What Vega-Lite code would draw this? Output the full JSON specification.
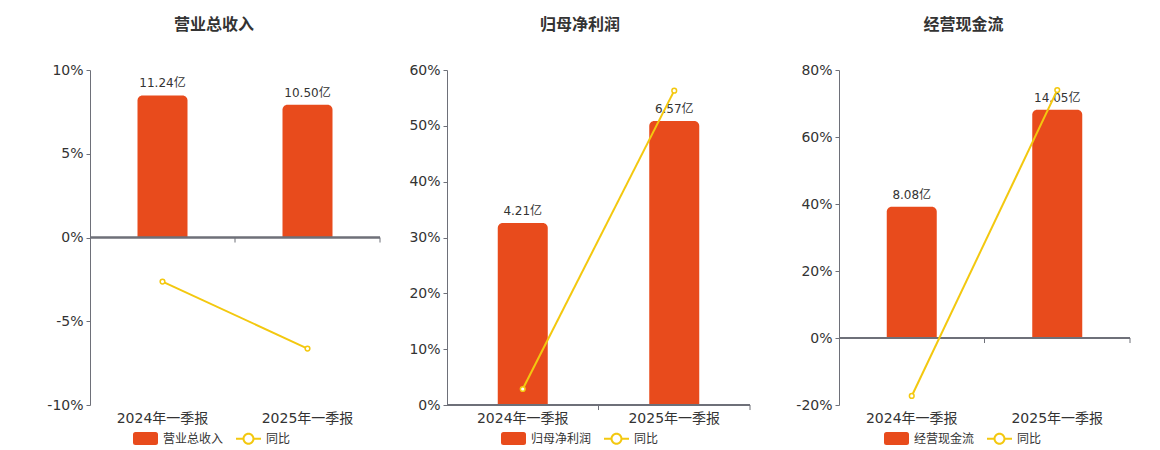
{
  "$schema": "https://vega.github.io/schema/vega-lite/v6.json",
  "background": "white",
  "padding": {"left": 46, "top": 17, "right": 0, "bottom": 0},
  "datasets": {
    "rev": [
      {"period": "2024年一季报", "amount": 11.24, "label": "11.24亿", "yoy": -2.63, "name": "营业总收入"},
      {"period": "2025年一季报", "amount": 10.50, "label": "10.50亿", "yoy": -6.63, "name": "营业总收入"}
    ],
    "np": [
      {"period": "2024年一季报", "amount": 4.21, "label": "4.21亿", "yoy": 2.87, "name": "归母净利润"},
      {"period": "2025年一季报", "amount": 6.57, "label": "6.57亿", "yoy": 56.3, "name": "归母净利润"}
    ],
    "cf": [
      {"period": "2024年一季报", "amount": 8.08, "label": "8.08亿", "yoy": -17.3, "name": "经营现金流"},
      {"period": "2025年一季报", "amount": 14.05, "label": "14.05亿", "yoy": 74.0, "name": "经营现金流"}
    ]
  },
  "bounds": "flush",
  "spacing": 67,
  "resolve": {"scale": {"color": "independent"}, "legend": {"color": "independent"}},
  "hconcat": [
    {
      "title": "营业总收入",
      "width": 290,
      "height": 335,
      "data": {"name": "rev"},
      "resolve": {"scale": {"y": "independent"}},
      "layer": [
        {
          "layer": [
            {
              "mark": {"type": "bar", "width": 50, "cornerRadiusTopLeft": 5, "cornerRadiusTopRight": 5},
              "encoding": {
                "x": {"field": "period", "type": "nominal", "sort": null, "scale": {"paddingInner": 0, "paddingOuter": 0}, "axis": {"title": null, "labelAngle": 0, "domain": false, "ticks": false, "grid": false, "labelPadding": 6}},
                "y": {"field": "amount", "type": "quantitative", "scale": {"domain": [-13.25, 13.25], "nice": false, "zero": false}, "axis": null},
                "y2": {"datum": 0},
                "color": {
                  "field": "name", "type": "nominal",
                  "scale": {"domain": ["营业总收入", "同比"], "range": ["#E84B1C", "#F3C80F"]},
                  "legend": {"title": null, "orient": "none", "legendX": 43, "legendY": 356, "direction": "horizontal", "symbolSize": 625, "columnPadding": 12, "labelOffset": 5,
                    "encode": {"symbols": {"update": {
                      "shape": {"signal": "datum.value === '同比' ? 'M-1,-0.08H-0.47V0.08H-1ZM0.47,-0.08H1V0.08H0.47ZM0.48,0A0.48,0.48 0 1 1 -0.48,0A0.48,0.48 0 1 1 0.48,0ZM0.32,0A0.32,0.32 0 1 0 -0.32,0A0.32,0.32 0 1 0 0.32,0Z' : 'M-0.8,-0.52H0.8Q1,-0.52 1,-0.32V0.32Q1,0.52 0.8,0.52H-0.8Q-1,0.52 -1,0.32V-0.32Q-1,-0.52 -0.8,-0.52Z'"},
                      "fill": {"signal": "datum.value === '同比' ? '#F3C80F' : '#E84B1C'"},
                      "strokeWidth": {"value": 0},
                      "opacity": {"value": 1},
                      "fillOpacity": {"value": 1},
                      "size": {"value": 625}
                    }}}
                  }
                }
              }
            },
            {
              "mark": {"type": "text", "baseline": "bottom", "dy": -5, "fontSize": 12, "color": "#333333"},
              "encoding": {
                "x": {"field": "period", "type": "nominal", "sort": null},
                "y": {"field": "amount", "type": "quantitative"},
                "text": {"field": "label"}
              }
            }
          ]
        },
        {
          "layer": [
            {
              "mark": {"type": "rule", "color": "#6E7079", "strokeWidth": 2},
              "encoding": {"y": {"datum": 0, "type": "quantitative", "title": null}}
            },
            {
              "mark": {"type": "rule", "color": "#6E7079", "strokeWidth": 1},
              "encoding": {
                "x": {"field": "period", "type": "nominal", "sort": null, "bandPosition": 1},
                "y": {"datum": 0, "type": "quantitative", "title": null},
                "y2": {"datum": -0.3}
              }
            },
            {
              "mark": {"type": "line", "strokeWidth": 2},
              "encoding": {
                "x": {"field": "period", "type": "nominal", "sort": null},
                "y": {"field": "yoy", "type": "quantitative", "title": null, "scale": {"domain": [-10, 10], "nice": false}, "axis": {"orient": "left", "values": [-10, -5, 0, 5, 10], "labelExpr": "datum.value + '%'"}},
                "color": {"datum": "同比"}
              }
            },
            {
              "mark": {"type": "point", "filled": true, "fill": "white", "stroke": "#F3C80F", "strokeWidth": 1.5, "size": 22, "opacity": 1},
              "encoding": {
                "x": {"field": "period", "type": "nominal", "sort": null},
                "y": {"field": "yoy", "type": "quantitative"}
              }
            }
          ]
        }
      ]
    },
    {
      "bounds": "flush",
      "spacing": 89,
      "resolve": {"scale": {"color": "independent"}, "legend": {"color": "independent"}},
      "hconcat": [
        {
          "title": "归母净利润",
          "width": 303,
          "height": 335,
          "data": {"name": "np"},
          "resolve": {"scale": {"y": "independent"}},
          "layer": [
            {
              "layer": [
                {
                  "mark": {"type": "bar", "width": 50, "cornerRadiusTopLeft": 5, "cornerRadiusTopRight": 5},
                  "encoding": {
                    "x": {"field": "period", "type": "nominal", "sort": null, "scale": {"paddingInner": 0, "paddingOuter": 0}, "axis": {"title": null, "labelAngle": 0, "domain": false, "ticks": false, "grid": false, "labelPadding": 6}},
                    "y": {"field": "amount", "type": "quantitative", "scale": {"domain": [0, 7.75], "nice": false, "zero": false}, "axis": null},
                    "y2": {"datum": 0},
                    "color": {
                      "field": "name", "type": "nominal",
                      "scale": {"domain": ["归母净利润", "同比"], "range": ["#E84B1C", "#F3C80F"]},
                      "legend": {"title": null, "orient": "none", "legendX": 54, "legendY": 356, "direction": "horizontal", "symbolSize": 625, "columnPadding": 12, "labelOffset": 5,
                        "encode": {"symbols": {"update": {
                          "shape": {"signal": "datum.value === '同比' ? 'M-1,-0.08H-0.47V0.08H-1ZM0.47,-0.08H1V0.08H0.47ZM0.48,0A0.48,0.48 0 1 1 -0.48,0A0.48,0.48 0 1 1 0.48,0ZM0.32,0A0.32,0.32 0 1 0 -0.32,0A0.32,0.32 0 1 0 0.32,0Z' : 'M-0.8,-0.52H0.8Q1,-0.52 1,-0.32V0.32Q1,0.52 0.8,0.52H-0.8Q-1,0.52 -1,0.32V-0.32Q-1,-0.52 -0.8,-0.52Z'"},
                          "fill": {"signal": "datum.value === '同比' ? '#F3C80F' : '#E84B1C'"},
                          "strokeWidth": {"value": 0},
                          "opacity": {"value": 1},
                          "fillOpacity": {"value": 1},
                          "size": {"value": 625}
                        }}}
                      }
                    }
                  }
                },
                {
                  "mark": {"type": "text", "baseline": "bottom", "dy": -5, "fontSize": 12, "color": "#333333"},
                  "encoding": {
                    "x": {"field": "period", "type": "nominal", "sort": null},
                    "y": {"field": "amount", "type": "quantitative"},
                    "text": {"field": "label"}
                  }
                }
              ]
            },
            {
              "layer": [
                {
                  "mark": {"type": "rule", "color": "#6E7079", "strokeWidth": 2},
                  "encoding": {"y": {"datum": 0, "type": "quantitative", "title": null}}
                },
                {
                  "mark": {"type": "rule", "color": "#6E7079", "strokeWidth": 1},
                  "encoding": {
                    "x": {"field": "period", "type": "nominal", "sort": null, "bandPosition": 1},
                    "y": {"datum": 0, "type": "quantitative", "title": null},
                    "y2": {"datum": -0.9}
                  }
                },
                {
                  "mark": {"type": "line", "strokeWidth": 2},
                  "encoding": {
                    "x": {"field": "period", "type": "nominal", "sort": null},
                    "y": {"field": "yoy", "type": "quantitative", "title": null, "scale": {"domain": [0, 60], "nice": false}, "axis": {"orient": "left", "values": [0, 10, 20, 30, 40, 50, 60], "labelExpr": "datum.value + '%'"}},
                    "color": {"datum": "同比"}
                  }
                },
                {
                  "mark": {"type": "point", "filled": true, "fill": "white", "stroke": "#F3C80F", "strokeWidth": 1.5, "size": 22, "opacity": 1},
                  "encoding": {
                    "x": {"field": "period", "type": "nominal", "sort": null},
                    "y": {"field": "yoy", "type": "quantitative"}
                  }
                }
              ]
            }
          ]
        },
        {
          "title": "经营现金流",
          "width": 291,
          "height": 335,
          "data": {"name": "cf"},
          "resolve": {"scale": {"y": "independent"}},
          "layer": [
            {
              "layer": [
                {
                  "mark": {"type": "bar", "width": 50, "cornerRadiusTopLeft": 5, "cornerRadiusTopRight": 5},
                  "encoding": {
                    "x": {"field": "period", "type": "nominal", "sort": null, "scale": {"paddingInner": 0, "paddingOuter": 0}, "axis": {"title": null, "labelAngle": 0, "domain": false, "ticks": false, "grid": false, "labelPadding": 6}},
                    "y": {"field": "amount", "type": "quantitative", "scale": {"domain": [-4.125, 16.5], "nice": false, "zero": false}, "axis": null},
                    "y2": {"datum": 0},
                    "color": {
                      "field": "name", "type": "nominal",
                      "scale": {"domain": ["经营现金流", "同比"], "range": ["#E84B1C", "#F3C80F"]},
                      "legend": {"title": null, "orient": "none", "legendX": 45, "legendY": 356, "direction": "horizontal", "symbolSize": 625, "columnPadding": 12, "labelOffset": 5,
                        "encode": {"symbols": {"update": {
                          "shape": {"signal": "datum.value === '同比' ? 'M-1,-0.08H-0.47V0.08H-1ZM0.47,-0.08H1V0.08H0.47ZM0.48,0A0.48,0.48 0 1 1 -0.48,0A0.48,0.48 0 1 1 0.48,0ZM0.32,0A0.32,0.32 0 1 0 -0.32,0A0.32,0.32 0 1 0 0.32,0Z' : 'M-0.8,-0.52H0.8Q1,-0.52 1,-0.32V0.32Q1,0.52 0.8,0.52H-0.8Q-1,0.52 -1,0.32V-0.32Q-1,-0.52 -0.8,-0.52Z'"},
                          "fill": {"signal": "datum.value === '同比' ? '#F3C80F' : '#E84B1C'"},
                          "strokeWidth": {"value": 0},
                          "opacity": {"value": 1},
                          "fillOpacity": {"value": 1},
                          "size": {"value": 625}
                        }}}
                      }
                    }
                  }
                },
                {
                  "mark": {"type": "text", "baseline": "bottom", "dy": -5, "fontSize": 12, "color": "#333333"},
                  "encoding": {
                    "x": {"field": "period", "type": "nominal", "sort": null},
                    "y": {"field": "amount", "type": "quantitative"},
                    "text": {"field": "label"}
                  }
                }
              ]
            },
            {
              "layer": [
                {
                  "mark": {"type": "rule", "color": "#6E7079", "strokeWidth": 2},
                  "encoding": {"y": {"datum": 0, "type": "quantitative", "title": null}}
                },
                {
                  "mark": {"type": "rule", "color": "#6E7079", "strokeWidth": 1},
                  "encoding": {
                    "x": {"field": "period", "type": "nominal", "sort": null, "bandPosition": 1},
                    "y": {"datum": 0, "type": "quantitative", "title": null},
                    "y2": {"datum": -1.5}
                  }
                },
                {
                  "mark": {"type": "line", "strokeWidth": 2},
                  "encoding": {
                    "x": {"field": "period", "type": "nominal", "sort": null},
                    "y": {"field": "yoy", "type": "quantitative", "title": null, "scale": {"domain": [-20, 80], "nice": false}, "axis": {"orient": "left", "values": [-20, 0, 20, 40, 60, 80], "labelExpr": "datum.value + '%'"}},
                    "color": {"datum": "同比"}
                  }
                },
                {
                  "mark": {"type": "point", "filled": true, "fill": "white", "stroke": "#F3C80F", "strokeWidth": 1.5, "size": 22, "opacity": 1},
                  "encoding": {
                    "x": {"field": "period", "type": "nominal", "sort": null},
                    "y": {"field": "yoy", "type": "quantitative"}
                  }
                }
              ]
            }
          ]
        }
      ]
    }
  ],
  "config": {
    "font": "DejaVu Sans, Noto Sans CJK SC",
    "view": {"stroke": null},
    "axis": {"labelFontSize": 14, "labelColor": "#333333", "labelFont": "DejaVu Sans, Noto Sans CJK SC"},
    "axisY": {"gridColor": "#E0E6F1", "domainColor": "#6E7079", "tickColor": "#6E7079", "tickSize": 4, "labelPadding": 3},
    "title": {"fontSize": 16, "fontWeight": "bold", "color": "#333333", "offset": 30, "frame": "bounds", "font": "DejaVu Sans, Noto Sans CJK SC"},
    "legend": {"labelFontSize": 12, "labelColor": "#333333", "labelFont": "DejaVu Sans, Noto Sans CJK SC"}
  }
}
